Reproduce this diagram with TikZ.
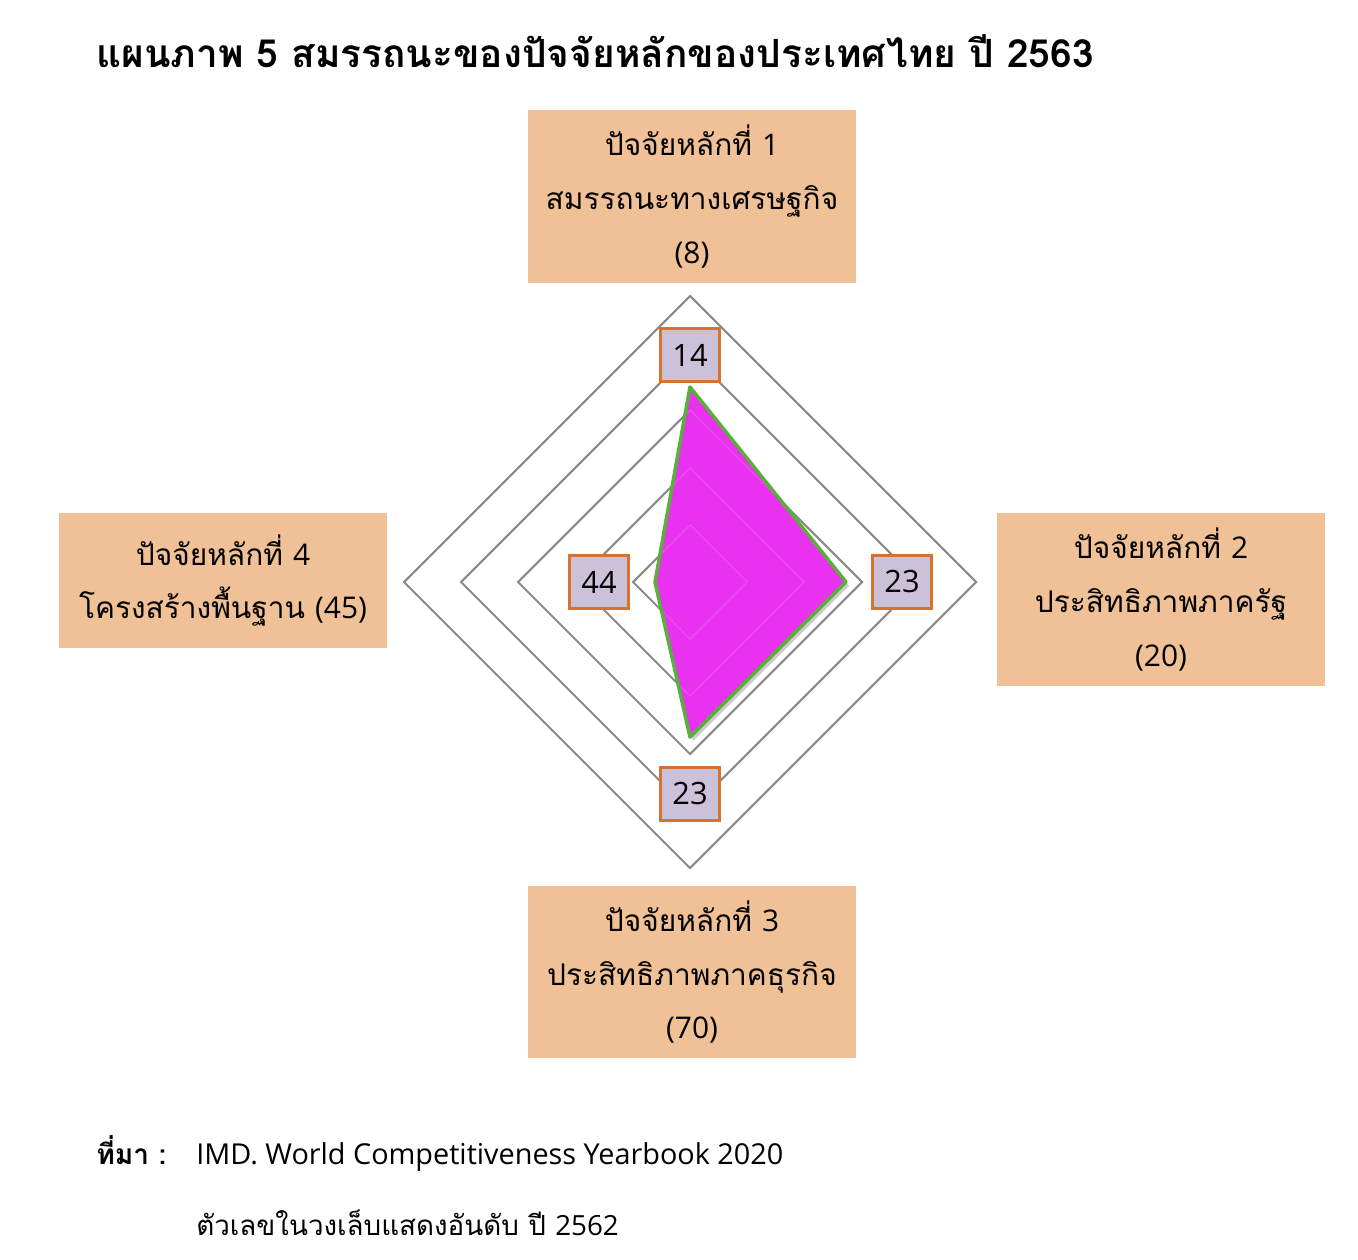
\documentclass[tikz,border=0pt]{standalone}
\usepackage{fontspec}
\setmainfont{Loma}[Script=Thai]
\newfontfamily\thaifont[Script=Thai]{Loma}
\newfontfamily\latinfont{Open Sans}
\definecolor{peach}{HTML}{F0C196}
\definecolor{lavender}{HTML}{CBC2DA}
\definecolor{rankline}{HTML}{D6732C}
\definecolor{spider}{HTML}{E832F0}
\definecolor{spiderline}{HTML}{5AAE3C}
\definecolor{ringgray}{HTML}{8A8A8A}

\begin{document}
\begin{tikzpicture}[x=0.02cm,y=-0.02cm,
    ring/.style={draw=ringgray, line width=1.2pt},
    factor/.style={fill=peach, minimum width=6.56cm, align=center, inner sep=0pt,
        font=\thaifont\fontsize{17}{30.6}\selectfont},
    rank/.style={draw=rankline, line width=1.4pt, fill=lavender, inner sep=0pt,
        minimum width=1.18cm, minimum height=1.06cm, font=\latinfont\fontsize{17.5}{20}\selectfont},
    note/.style={anchor=base west, inner sep=0pt}]
    \useasboundingbox (0,0) rectangle (1358,1260);

    \node[note, font=\thaifont\bfseries\fontsize{22.1}{26}\selectfont] (title) at (96,68) {แผนภาพ 5 สมรรถนะของปัจจัยหลักของประเทศไทย ปี 2563};

    % rings of the radar
    \draw[ring] (690,525) -- (747,582) -- (690,639) -- (633,582) -- cycle;
    \draw[ring] (690,468) -- (804,582) -- (690,696) -- (576,582) -- cycle;
    \draw[ring] (690,410) -- (862,582) -- (690,754) -- (518,582) -- cycle;
    \draw[ring] (690,353) -- (919,582) -- (690,811) -- (461,582) -- cycle;
    \draw[ring] (690,296) -- (976,582) -- (690,868) -- (404,582) -- cycle;

    \coordinate (p1) at (690,387);
    \coordinate (p2) at (846,582);
    \coordinate (p3) at (690,737);
    \coordinate (p4) at (655,582);

    \fill[black, opacity=0.2] ([shift={(3,4)}]p1) -- ([shift={(3,4)}]p2) -- ([shift={(3,4)}]p3) -- ([shift={(3,4)}]p4) -- cycle;
    \fill[spider] (p1) -- (p2) -- (p3) -- (p4) -- cycle;
    % grid seen through the fill
    \begin{scope}
        \clip (p1) -- (p2) -- (p3) -- (p4) -- cycle;
        \draw[white, opacity=0.12, line width=0.8pt] (690,525) -- (747,582) -- (690,639) -- (633,582) -- cycle;
        \draw[white, opacity=0.12, line width=0.8pt] (690,468) -- (804,582) -- (690,696) -- (576,582) -- cycle;
        \draw[white, opacity=0.12, line width=0.8pt] (690,410) -- (862,582) -- (690,754) -- (518,582) -- cycle;
    \end{scope}
    \draw[spiderline, line width=2pt, line join=round] (p1) -- (p2) -- (p3) -- (p4) -- cycle;

    \node[rank] (r1) at (690,355) {14};
    \node[rank] (r2) at (902,582) {23};
    \node[rank] (r3) at (690,794) {23};
    \node[rank] (r4) at (599,582) {44};

    \node[factor, minimum height=3.46cm] (f1) at (692,196.5) {ปัจจัยหลักที่ {\latinfont 1}\\สมรรถนะทางเศรษฐกิจ\\{\latinfont (8)}};
    \node[factor, minimum height=3.46cm] (f2) at (1161,599.5) {ปัจจัยหลักที่ {\latinfont 2}\\ประสิทธิภาพภาครัฐ\\{\latinfont (20)}};
    \node[factor, minimum height=3.44cm] (f3) at (692,972) {ปัจจัยหลักที่ {\latinfont 3}\\ประสิทธิภาพภาคธุรกิจ\\{\latinfont (70)}};
    \node[factor, minimum height=2.7cm] (f4) at (223,580.5) {ปัจจัยหลักที่ {\latinfont 4}\\โครงสร้างพื้นฐาน {\latinfont (45)}};

    \node[note, font=\thaifont\bfseries\fontsize{16}{20}\selectfont] (src) at (96,1164) {ที่มา :};
    \node[note, font=\latinfont\fontsize{16.4}{20}\selectfont] (srctext) at (196,1164) {IMD. World Competitiveness Yearbook 2020};
    \node[note, font=\thaifont\fontsize{15.8}{20}\selectfont] (remark) at (196,1235) {ตัวเลขในวงเล็บแสดงอันดับ ปี {\latinfont 2562}};

\end{tikzpicture}
\end{document}
